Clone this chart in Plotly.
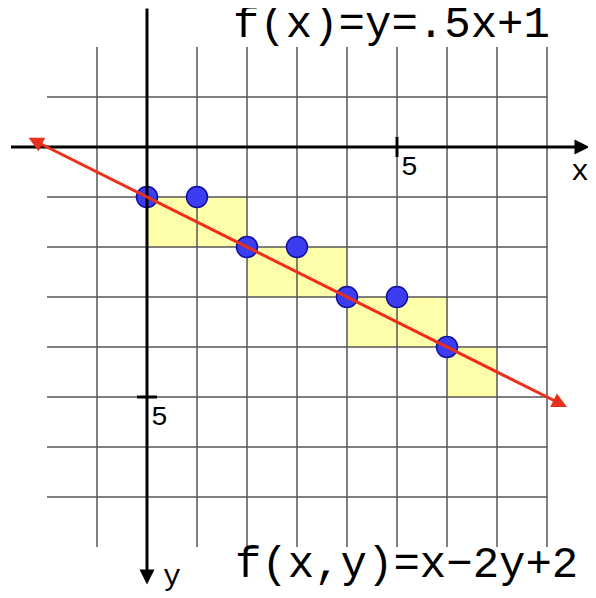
import plotly.graph_objects as go

# Bresenham-style rasterisation of y = .5x + 1 (y axis points down)
px = [0, 1, 2, 3, 4, 5, 6]
py = [1, 1, 2, 2, 3, 3, 4]
cells = [(0, 2, 1, 2), (2, 4, 2, 3), (4, 6, 3, 4), (6, 7, 4, 5)]
grid_x = [-1, 0, 1, 2, 3, 4, 5, 6, 7, 8]
grid_y = [-1, 1, 2, 3, 4, 5, 6, 7]
line_x = [-2.4, 8.4]

fig = go.Figure()
shapes = []
for x0, x1, y0, y1 in cells:
    shapes.append(dict(type="rect", x0=x0, x1=x1, y0=y0, y1=y1, layer="below",
                       fillcolor="#ffffaa", line=dict(width=0)))
for gx in grid_x:
    shapes.append(dict(type="line", x0=gx, x1=gx, y0=-2, y1=8, layer="below",
                       line=dict(color="#555555", width=1.5)))
for gy in grid_y:
    shapes.append(dict(type="line", x0=-2, x1=8, y0=gy, y1=gy, layer="below",
                       line=dict(color="#555555", width=1.5)))
shapes.append(dict(type="line", x0=5, x1=5, y0=-0.2, y1=0.2, line=dict(color="black", width=3)))
shapes.append(dict(type="line", x0=-0.2, x1=0.2, y0=5, y1=5, line=dict(color="black", width=3)))

ann = [
    dict(x=8.85, y=0, ax=-2.75, ay=0, showarrow=True, arrowhead=2, arrowsize=1,
         arrowwidth=3, arrowcolor="black", axref="x", ayref="y", xref="x", yref="y", text=""),
    dict(x=0, y=8.75, ax=0, ay=-2.8, showarrow=True, arrowhead=2, arrowsize=1,
         arrowwidth=3, arrowcolor="black", axref="x", ayref="y", xref="x", yref="y", text=""),
    dict(x=line_x[1], y=0.5 * line_x[1] + 1, ax=line_x[0], ay=0.5 * line_x[0] + 1,
         showarrow=True, arrowhead=2, startarrowhead=2, arrowside="end+start",
         arrowsize=1, arrowwidth=3, arrowcolor="#e8301c",
         axref="x", ayref="y", xref="x", yref="y", text=""),
]
txt = [
    ("f(x)=y=.5x+1", 8.1, -2.45, 44, "right"),
    ("f(x,y)=x−2y+2", 8.65, 8.35, 44, "right"),
    ("x", 8.65, 0.5, 30, "center"),
    ("y", 0.5, 8.6, 30, "center"),
    ("5", 5.25, 0.4, 28, "center"),
    ("5", 0.25, 5.4, 28, "center"),
]
for t, x, y, s, al in txt:
    ann.append(dict(x=x, y=y, text=t, showarrow=False, xanchor=al,
                    font=dict(family="Liberation Mono", size=s, color="black")))

fig.add_trace(go.Scatter(x=px, y=py, mode="markers",
                         marker=dict(size=21, color="#3c3cf0",
                                     line=dict(color="#1010a0", width=1.5))))
fig.update_layout(
    width=596, height=598, margin=dict(l=0, r=0, t=0, b=0),
    plot_bgcolor="white", paper_bgcolor="white", showlegend=False,
    shapes=shapes, annotations=ann,
    xaxis=dict(range=[-2.78, 9.14], visible=False),
    yaxis=dict(range=[9.18, -2.78], visible=False),
)
fig.write_html("out.html")
